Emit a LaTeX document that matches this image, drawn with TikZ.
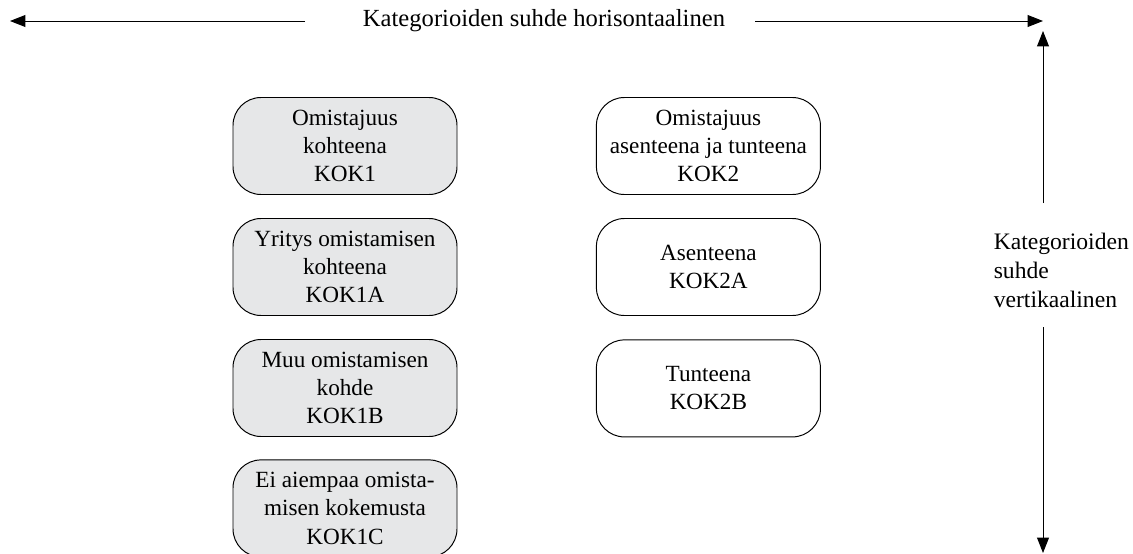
\documentclass[tikz,border=0pt]{standalone}
\usepackage{fontspec}
\setmainfont{Liberation Serif}
\usetikzlibrary{math,arrows.meta}

\definecolor{kokgray}{RGB}{230,231,232}

\tikzset{
  kok/.style={draw, line width=0.7pt, rounded corners=0.7cm,
    minimum width=5.6cm, minimum height=2.425cm, inner sep=0pt,
    align=center, font=\fontsize{16.5}{20}\selectfont},
  kokfill/.style={kok, fill=kokgray},
  axis/.style={line width=0.7pt, -{Triangle[length=11pt,width=8.5pt]}},
  axistext/.style={font=\fontsize{17.5}{20.6}\selectfont}
}

\begin{document}
\begin{tikzpicture}

\tikzmath{
\scale = 1;
}

\useasboundingbox (0,0) rectangle (28.325*\scale,-13.825*\scale);

% kohteena
\node[kokfill] (kok1) at (8.625*\scale,-3.65*\scale) {Omistajuus\\kohteena\\KOK1};
\node[kokfill] (kok1a) at (8.625*\scale,-6.675*\scale) {Yritys omistamisen\\kohteena\\KOK1A};
\node[kokfill] (kok1b) at (8.625*\scale,-9.7*\scale) {Muu omistamisen\\kohde\\KOK1B};
\node[kokfill] (kok1c) at (8.625*\scale,-12.71*\scale) {Ei aiempaa omista-\\misen kokemusta\\KOK1C};

% asenteena ja tunteena
\node[kok] (kok2) at (17.71*\scale,-3.65*\scale) {Omistajuus\\asenteena ja tunteena\\KOK2};
\node[kok] (kok2a) at (17.71*\scale,-6.675*\scale) {Asenteena\\KOK2A};
\node[kok] (kok2b) at (17.71*\scale,-9.71*\scale) {Tunteena\\KOK2B};

% horisontaalinen
\node[axistext] (hor) at (13.6*\scale,-0.525*\scale) {Kategorioiden suhde horisontaalinen};
\coordinate (horl) at (7.625*\scale,-0.525*\scale);
\coordinate (horltip) at (0.25*\scale,-0.525*\scale);
\coordinate (horr) at (18.875*\scale,-0.525*\scale);
\coordinate (horrtip) at (26.075*\scale,-0.525*\scale);
\draw[axis] (horl) -- (horltip);
\draw[axis] (horr) -- (horrtip);

% vertikaalinen
\node[axistext, font=\fontsize{16.8}{20.6}\selectfont, anchor=west, align=left] (ver) at (24.72*\scale,-6.75*\scale) {Kategorioiden\\suhde\\vertikaalinen};
\coordinate (veru) at (26.075*\scale,-5.075*\scale);
\coordinate (verutip) at (26.075*\scale,-0.775*\scale);
\coordinate (verd) at (26.075*\scale,-8.175*\scale);
\coordinate (verdtip) at (26.075*\scale,-13.825*\scale);
\draw[axis] (veru) -- (verutip);
\draw[axis] (verd) -- (verdtip);

\end{tikzpicture}
\end{document}
